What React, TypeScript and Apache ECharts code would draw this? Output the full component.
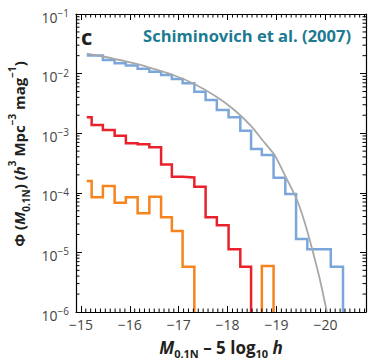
import React, { useEffect, useRef } from "react";
import * as echarts from "echarts";

// ---- data ----
const binEdges = [
  -15.12, -15.22, -15.45, -15.69, -15.92, -16.16, -16.4, -16.64, -16.86, -17.08, -17.32, -17.55,
  -17.78, -18.02, -18.26, -18.48, -18.7, -18.94, -19.18, -19.4, -19.63, -19.87, -20.11, -20.36,
];

const blueValues: (number | null)[] = [
  0.0201, 0.0201, 0.0169, 0.0149, 0.01367, 0.01208, 0.01076, 0.00947, 0.00811, 0.00687, 0.00497,
  0.00361, 0.00245, 0.00185, 0.0011, 5.43e-4, 4.31e-4, 1.79e-4, 9.55e-5, 1.68e-5, 1.13e-5, 1.13e-5,
  5.75e-6,
];

const redValues: (number | null)[] = [
  1.85e-3, 1.37e-3, 1.13e-3, 9.08e-4, 6.77e-4, 6.51e-4, 5.8e-4, 2.98e-4, 1.86e-4, 1.81e-4, 1.26e-4,
  3.88e-5, 2.85e-5, 1.13e-5, 5.75e-6,
];

const orangeValues: (number | null)[] = [
  1.58e-4, 8.4e-5, 1.3e-4, 6.82e-5, 8.4e-5, 4.53e-5, 8.61e-5, 3.88e-5, 2.29e-5, 5.75e-6, null,
  null, null, null, null, null, 5.91e-6,
];

const fitMag = [
  -15.12, -15.45, -15.92, -16.4, -16.86, -17.32, -17.78, -18.15, -18.5, -18.71, -18.96, -19.18,
  -19.42, -19.58, -19.73, -19.88, -20.03,
];
const fitPhi = [
  0.02173, 0.01936, 0.01596, 0.01265, 0.00966, 0.00669, 0.00405, 0.0024, 0.00127, 7.69e-4, 4.31e-4,
  1.91e-4, 7.57e-5, 3.11e-5, 1.13e-5, 3.72e-6, 1.0e-6,
];

const titleText = "Schiminovich et al. (2007)";
const panelLetter = "c";

// ---- axes ----
const XMIN = -20.83;
const XMAX = -14.9;
const YMIN = 1e-6;
const YMAX = 0.1;

const FONT = '"Open Sans", "DejaVu Sans", sans-serif';

const COLORS = {
  blue: "#7ba6dc",
  red: "#e8212b",
  orange: "#f5841f",
  gray: "#a8a8a8",
};

function stepRuns(values: (number | null)[]): number[][][] {
  const runs: number[][][] = [];
  let cur: number[][] | null = null;
  values.forEach((v, i) => {
    if (v == null) {
      if (cur) {
        cur.push([binEdges[i], YMIN]);
        runs.push(cur);
        cur = null;
      }
      return;
    }
    if (!cur) {
      cur = [];
      if (i > 0) cur.push([binEdges[i], YMIN]);
    }
    cur.push([binEdges[i], v], [binEdges[i + 1], v]);
  });
  if (cur) {
    (cur as number[][]).push([binEdges[values.length], YMIN]);
    runs.push(cur);
  }
  return runs;
}

function stepSeries(values: (number | null)[], color: string) {
  return stepRuns(values).map((run) => ({
    type: "line",
    data: run,
    showSymbol: false,
    symbol: "none",
    lineStyle: { color, width: 2.5, join: "miter", cap: "butt" },
    silent: true,
    z: 3,
  }));
}

const xMinorTicks: number[] = [];
for (let k = -208; k <= -150; k++) if (k % 10 !== 0) xMinorTicks.push(k / 10);
const yMinorTicks: number[] = [];
for (let e = -6; e <= -2; e++) for (let m = 2; m <= 9; m++) yMinorTicks.push(m * Math.pow(10, e));

const tickStyle = { stroke: "#000", lineWidth: 1 };

function buildOption() {
  const xAxisCommon = {
    type: "value",
    min: XMIN,
    max: XMAX,
    inverse: true,
    splitNumber: 6,
    splitLine: { show: false },
    axisLine: { show: true, onZero: false, lineStyle: { color: "#000", width: 1.2 } },
    axisTick: { show: true, inside: true, length: 6, lineStyle: { color: "#000", width: 1 } },
  };
  const yAxisCommon = {
    type: "log",
    logBase: 10,
    min: YMIN,
    max: YMAX,
    splitLine: { show: false },
    axisLine: { show: true, onZero: false, lineStyle: { color: "#000", width: 1.2 } },
    axisTick: { show: true, inside: true, length: 6, lineStyle: { color: "#000", width: 1 } },
  };
  return {
    animation: false,
    backgroundColor: "#fff",
    grid: { left: 76, right: 4, top: 14, bottom: 49, containLabel: false },
    xAxis: [
      {
        ...xAxisCommon,
        position: "bottom",
        axisLabel: {
          show: true,
          margin: 5,
          fontSize: 14,
          color: "#444",
          fontFamily: FONT,
          showMinLabel: false,
          showMaxLabel: false,
          formatter: (v: number) =>
            Number.isInteger(v) ? (v < 0 ? "\u2212" : "") + Math.abs(v) : "",
        },
      },
      { ...xAxisCommon, position: "top", axisLabel: { show: false } },
    ],
    yAxis: [
      {
        ...yAxisCommon,
        position: "left",
        axisLabel: {
          show: true,
          margin: 7,
          padding: [6, 0, 0, 0],
          formatter: (v: number) => {
            const e = Math.round(Math.log10(v));
            return `{b|10}{s|\u2212${Math.abs(e)}}`;
          },
          rich: {
            b: { fontSize: 14, color: "#444", fontFamily: FONT, lineHeight: 18 },
            s: { fontSize: 10, color: "#444", fontFamily: FONT, lineHeight: 6, verticalAlign: "top" },
          },
        },
      },
      { ...yAxisCommon, position: "right", axisLabel: { show: false } },
    ],
    graphic: [
      {
        type: "text",
        x: 81,
        y: 36,
        silent: true,
        style: {
          text: panelLetter,
          font: `bold 22px ${FONT}`,
          fill: "#231f20",
          align: "left",
          verticalAlign: "middle",
        },
      },
      {
        type: "text",
        x: 351,
        y: 35,
        silent: true,
        style: {
          text: titleText,
          font: `bold 16.5px ${FONT}`,
          fill: "#1b7b91",
          align: "right",
          verticalAlign: "middle",
        },
      },
      {
        type: "text",
        x: 19,
        y: 154,
        rotation: Math.PI / 2,
        silent: true,
        style: {
          text: "{b|\u03a6 (}{i|M}{sub|0.1N}{b|) (}{i|h}{sup|3}{b| Mpc}{sup|\u22123}{b| mag}{sup|\u22121}{b|)}",
          align: "center",
          verticalAlign: "middle",
          rich: {
            b: { fontSize: 15, fontWeight: "bold", fontFamily: FONT, fill: "#231f20", lineHeight: 24 },
            i: { fontSize: 15, fontWeight: "bold", fontStyle: "italic", fontFamily: FONT, fill: "#231f20", lineHeight: 24 },
            sup: { fontSize: 10, fontWeight: "bold", fontFamily: FONT, fill: "#231f20", lineHeight: 2, verticalAlign: "top" },
            sub: { fontSize: 10, fontWeight: "bold", fontFamily: FONT, fill: "#231f20", lineHeight: 2, verticalAlign: "bottom" },
          },
        },
      },
      {
        type: "text",
        x: 221,
        y: 347,
        silent: true,
        style: {
          text: "{i|M}{sub|0.1N}{b| \u2013 5 log}{sub|10}{i| h}",
          align: "center",
          verticalAlign: "middle",
          rich: {
            b: { fontSize: 17, fontWeight: "bold", fontFamily: FONT, fill: "#231f20", lineHeight: 24 },
            i: { fontSize: 17, fontWeight: "bold", fontStyle: "italic", fontFamily: FONT, fill: "#231f20", lineHeight: 24 },
            sub: { fontSize: 11, fontWeight: "bold", fontFamily: FONT, fill: "#231f20", lineHeight: 2, verticalAlign: "bottom" },
          },
        },
      },
    ],
    series: [
      ...stepSeries(blueValues, COLORS.blue),
      {
        type: "line",
        data: fitMag.map((m, i) => [m, fitPhi[i]]),
        smooth: 0.25,
        showSymbol: false,
        symbol: "none",
        lineStyle: { color: COLORS.gray, width: 1.8 },
        silent: true,
        z: 4,
      },
      ...stepSeries(redValues, COLORS.red),
      ...stepSeries(orangeValues, COLORS.orange),
      {
        type: "custom",
        silent: true,
        z: 6,
        data: xMinorTicks.map((v) => [v, YMIN]),
        renderItem: (_p: any, api: any) => {
          const v = api.value(0);
          const b = api.coord([v, YMIN]);
          const t = api.coord([v, YMAX]);
          return {
            type: "group",
            children: [
              { type: "line", shape: { x1: b[0], y1: b[1], x2: b[0], y2: b[1] - 3.5 }, style: tickStyle },
              { type: "line", shape: { x1: t[0], y1: t[1], x2: t[0], y2: t[1] + 3.5 }, style: tickStyle },
            ],
          };
        },
      },
      {
        type: "custom",
        silent: true,
        z: 6,
        data: yMinorTicks.map((v) => [XMAX, v]),
        renderItem: (_p: any, api: any) => {
          const v = api.value(1);
          const l = api.coord([XMAX, v]);
          const r = api.coord([XMIN, v]);
          return {
            type: "group",
            children: [
              { type: "line", shape: { x1: l[0], y1: l[1], x2: l[0] + 3.5, y2: l[1] }, style: tickStyle },
              { type: "line", shape: { x1: r[0], y1: r[1], x2: r[0] - 3.5, y2: r[1] }, style: tickStyle },
            ],
          };
        },
      },
    ],
  };
}

export default function App() {
  const ref = useRef<HTMLDivElement>(null);
  useEffect(() => {
    if (!ref.current) return;
    const chart = echarts.init(ref.current, null, { renderer: "svg" });
    chart.setOption(buildOption() as any);
    return () => chart.dispose();
  }, []);
  return (
    <div
      ref={ref}
      style={{ position: "fixed", left: 0, top: 0, width: 370, height: 361, background: "#fff" }}
    />
  );
}
